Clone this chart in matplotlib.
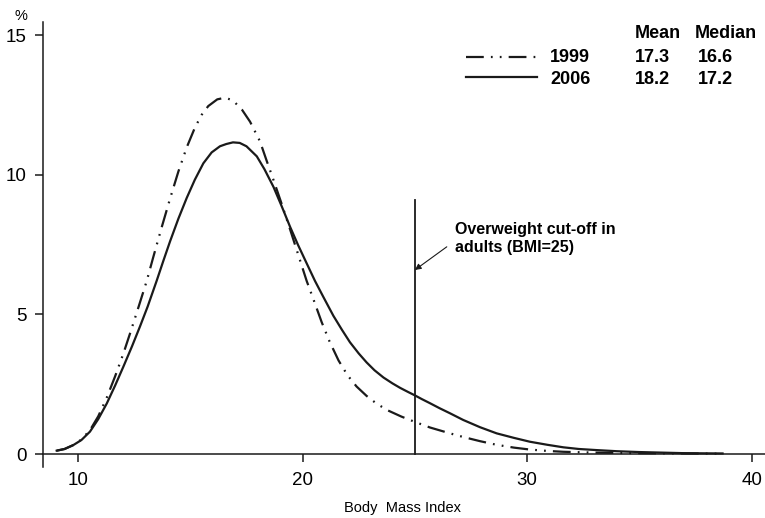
import matplotlib
matplotlib.use("Agg")
import matplotlib.pyplot as plt
from matplotlib.lines import Line2D

plt.rcParams['font.family'] = ['Liberation Sans', 'DejaVu Sans']

# BMI distribution (% of children)
bmi_2006 = [9.05, 9.4, 9.79, 10.15, 10.53, 10.9, 11.28, 11.65, 12.02, 12.4,
            12.76, 13.1, 13.5, 13.8, 14.1, 14.47, 14.84, 15.2, 15.58, 15.95,
            16.32, 16.6, 16.9, 17.2, 17.5, 17.96, 18.3, 18.7, 19.07, 19.44,
            19.8, 20.18, 20.55, 20.92, 21.37, 21.75, 22.11, 22.5, 22.85, 23.2,
            23.6, 24.0, 24.34, 24.7, 25.0, 25.3, 25.67, 26.1, 26.56, 27.15,
            27.9, 28.64, 29.4, 30.12, 30.9, 31.61, 32.3, 33.1, 34.0, 35.0,
            36.0, 37.0, 38.7]
pct_2006 = [0.12, 0.18, 0.32, 0.50, 0.80, 1.25, 1.81, 2.45, 3.13, 3.85,
            4.57, 5.28, 6.2, 6.92, 7.62, 8.43, 9.17, 9.82, 10.41, 10.80,
            11.02, 11.10, 11.16, 11.14, 11.02, 10.66, 10.2, 9.57, 8.87, 8.14,
            7.48, 6.83, 6.2, 5.63, 4.95, 4.45, 4.0, 3.6, 3.28, 3.0,
            2.74, 2.53, 2.37, 2.22, 2.10, 1.97, 1.82, 1.64, 1.46, 1.22,
            0.96, 0.74, 0.58, 0.44, 0.33, 0.24, 0.18, 0.14, 0.10, 0.07,
            0.05, 0.03, 0.02]

bmi_1999 = [9.05, 9.4, 9.79, 10.15, 10.53, 10.9, 11.28, 11.65, 12.02, 12.35,
            12.7, 13.06, 13.35, 13.7, 14.1, 14.47, 14.84, 15.2, 15.5, 15.8,
            16.2, 16.55, 16.9, 17.3, 17.66, 18.1, 18.4, 18.7, 19.07, 19.44,
            19.8, 20.18, 20.5, 20.85, 21.2, 21.6, 22.0, 22.4, 22.85, 23.3,
            23.8, 24.4, 25.0, 25.67, 26.56, 27.15, 27.9, 28.64, 29.4, 30.12,
            30.9, 31.61, 33.0, 35.0, 37.0, 38.7]
pct_1999 = [0.12, 0.18, 0.32, 0.52, 0.85, 1.35, 2.02, 2.78, 3.6, 4.4,
            5.28, 6.2, 7.05, 8.05, 9.15, 10.12, 10.98, 11.68, 12.14, 12.46,
            12.7, 12.76, 12.66, 12.33, 11.9, 11.2, 10.5, 9.82, 8.95, 8.05,
            7.15, 6.2, 5.5, 4.72, 4.03, 3.35, 2.82, 2.42, 2.08, 1.8,
            1.56, 1.34, 1.15, 0.95, 0.74, 0.61, 0.46, 0.33, 0.23, 0.16,
            0.11, 0.08, 0.05, 0.03, 0.02, 0.01]

years = ["1999", "2006"]
means = ["17.3", "18.2"]
medians = ["16.6", "17.2"]
cutoff = 25
cutoff_top = 9.1

W, H = 765, 518


def px(x, y):
    return x / W, 1 - y / H


fig = plt.figure(figsize=(W / 100, H / 100), dpi=100)
ax = fig.add_axes([43 / W, 1 - 467 / H, 1 - 43 / W, (467 - 22) / H])

dash_dot_dot = (0, (8, 3.2, 0.8, 3.2, 0.8, 3.2))
ax.plot(bmi_1999, pct_1999, color='#1a1a1a', lw=1.6, linestyle=dash_dot_dot)
ax.plot(bmi_2006, pct_2006, color='#1a1a1a', lw=1.6)

# overweight cut-off
ax.plot([cutoff, cutoff], [0, cutoff_top], color='#1a1a1a', lw=1.3)
ax.annotate('', xy=(cutoff, 6.59), xytext=(26.42, 7.42),
            arrowprops=dict(arrowstyle='-|>', color='#1a1a1a', lw=0.8,
                            mutation_scale=9, shrinkA=0, shrinkB=0))
ax.text(26.79, 7.7, "Overweight cut-off in\nadults (BMI=25)", fontsize=11.5,
        fontweight='bold', ha='left', va='center', linespacing=1.25)

ax.set_xlim(8.44, 40.59)
ax.set_ylim(-0.465, 15.47)
ax.set_xticks([10, 20, 30, 40])
ax.set_yticks([0, 5, 10, 15])
for s in ['top', 'right']:
    ax.spines[s].set_visible(False)
ax.spines['bottom'].set_position(('data', 0))
for s in ['bottom', 'left']:
    ax.spines[s].set_linewidth(1.1)
    ax.spines[s].set_color('#1a1a1a')
ax.tick_params(axis='both', direction='out', length=6, width=1.1,
               labelsize=13.5, color='#1a1a1a')
ax.tick_params(axis='x', pad=7)
ax.tick_params(axis='y', pad=6)

fig.text(*px(21, 16), "%", fontsize=10.5, ha='center', va='center')
fig.text(*px(403, 508), "Body  Mass Index", fontsize=10.5, ha='center', va='center')

# legend table
fig.text(*px(635, 34), "Mean", fontsize=13, fontweight='bold', va='center')
fig.text(*px(695, 34), "Median", fontsize=13, fontweight='bold', va='center')
row_y = [58, 80]
line_y = [57, 77]
styles = [dash_dot_dot, '-']
for yr, mn, md, ty, ly, ls in zip(years, means, medians, row_y, line_y, styles):
    x0, y0 = px(466, ly)
    x1, _ = px(537, ly)
    fig.add_artist(Line2D([x0, x1], [y0, y0], transform=fig.transFigure,
                          color='#1a1a1a', lw=1.6, linestyle=ls))
    fig.text(*px(550, ty), yr, fontsize=13, fontweight='bold', va='center')
    fig.text(*px(635, ty), mn, fontsize=13, fontweight='bold', va='center')
    fig.text(*px(698, ty), md, fontsize=13, fontweight='bold', va='center')

fig.savefig("out.png", dpi=100)
